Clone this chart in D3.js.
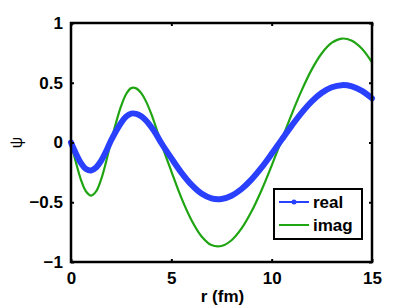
<!DOCTYPE html>
<html>
<head>
<meta charset="utf-8">
<script src="https://cdn.jsdelivr.net/npm/d3@7"></script>
<style>
body { margin: 0; background: #fff; }
svg text { font-family: "Liberation Sans", Arial, sans-serif; }
</style>
</head>
<body>
<script>
// values
var rVals = [0, 0.25, 0.5, 0.75, 1, 1.25, 1.5, 1.75, 2, 2.25, 2.5, 2.75, 3, 3.25, 3.5, 3.75, 4, 4.25, 4.5,
             5, 5.5, 6, 6.5, 7, 7.5, 8, 8.5, 9, 9.5, 10, 10.5, 11, 11.5, 12, 12.5, 13, 13.5, 14, 14.5, 15];
var realVals = [0, -0.094, -0.173, -0.222, -0.234, -0.209, -0.153, -0.073, 0.019, 0.097, 0.166, 0.217, 0.242,
                0.240, 0.220, 0.182, 0.130, 0.068, -0.004, -0.131, -0.252, -0.353, -0.427, -0.467, -0.472,
                -0.445, -0.389, -0.309, -0.209, -0.095, 0.024, 0.141, 0.250, 0.344, 0.416, 0.462, 0.480,
                0.469, 0.432, 0.370];
var imagVals = [0, -0.170, -0.314, -0.410, -0.444, -0.409, -0.309, -0.160, 0.013, 0.170, 0.306, 0.406, 0.455,
                0.453, 0.413, 0.340, 0.239, 0.119, -0.010, -0.241, -0.463, -0.648, -0.784, -0.858, -0.866,
                -0.818, -0.719, -0.576, -0.397, -0.193, 0.022, 0.238, 0.438, 0.612, 0.747, 0.835, 0.870,
                0.851, 0.784, 0.670];
var xTicks = [0, 5, 10, 15];
var yTicks = [-1, -0.5, 0, 0.5, 1];
var seriesNames = ["real", "imag"];

var margin = {top: 23, right: 37, bottom: 46, left: 71},
    width = 409 - margin.left - margin.right,
    height = 308 - margin.top - margin.bottom;

var colors = {real: "#2a40ff", imag: "#1fa512"};

var svg = d3.select("body").append("svg")
    .attr("width", 409)
    .attr("height", 308)
    .append("g")
    .attr("transform", "translate(" + margin.left + "," + margin.top + ")");

var x = d3.scaleLinear().domain([0, 15]).range([0, width]);
var y = d3.scaleLinear().domain([-1, 1]).range([height, 0]);

var data = rVals.map(function(r, i) { return {r: r, real: realVals[i], imag: imagVals[i]}; });

function fmt(d) { return d < 0 ? "\u2212" + Math.abs(d) : "" + d; }

// curves
seriesNames.slice().reverse().forEach(function(s) {
    var line = d3.line()
        .x(function(d) { return x(d.r); })
        .y(function(d) { return y(d[s]); })
        .curve(d3.curveCatmullRom);
    svg.append("path")
        .datum(data)
        .attr("fill", "none")
        .attr("stroke", colors[s])
        .attr("stroke-width", s == "real" ? 6 : 2.2)
        .attr("stroke-linejoin", "round")
        .attr("stroke-linecap", "round")
        .attr("d", line);
});

// axes, ticks pointing inward like matlab
function styleAxis(g) {
    g.select(".domain").remove();
    g.selectAll(".tick line").attr("stroke", "#000").attr("stroke-width", 2);
    g.selectAll(".tick text")
        .attr("fill", "#000")
        .style("font-size", "17px")
        .style("font-weight", "bold");
}

svg.append("g")
    .attr("transform", "translate(0," + height + ")")
    .call(d3.axisBottom(x).tickValues(xTicks).tickSize(-3).tickPadding(10).tickFormat(fmt))
    .call(styleAxis);
svg.append("g")
    .call(d3.axisTop(x).tickValues(xTicks).tickSize(-3).tickFormat(""))
    .call(styleAxis);
svg.append("g")
    .call(d3.axisLeft(y).tickValues(yTicks).tickSize(-3).tickPadding(8).tickFormat(fmt))
    .call(styleAxis);
svg.append("g")
    .attr("transform", "translate(" + width + ",0)")
    .call(d3.axisRight(y).tickValues(yTicks).tickSize(-3).tickFormat(""))
    .call(styleAxis);

svg.append("rect")
    .attr("width", width)
    .attr("height", height)
    .attr("fill", "none")
    .attr("stroke", "#000")
    .attr("stroke-width", 2.5);

// axis labels
svg.append("text")
    .attr("x", width / 2 + 1)
    .attr("y", height + 40)
    .attr("text-anchor", "middle")
    .style("font-size", "17px")
    .style("font-weight", "bold")
    .text("r (fm)");

svg.append("text")
    .attr("transform", "translate(" + (-49) + "," + (height / 2) + ") rotate(-90)")
    .attr("text-anchor", "middle")
    .style("font-size", "16px")
    .text("\u03c8");

// legend
var legend = svg.append("g").attr("transform", "translate(" + (274 - margin.left) + "," + (189 - margin.top) + ")");
legend.append("rect")
    .attr("width", 88)
    .attr("height", 50)
    .attr("fill", "#fff")
    .attr("stroke", "#000")
    .attr("stroke-width", 2);
seriesNames.forEach(function(s, i) {
    var ly = 13 + i * 23;
    legend.append("line")
        .attr("x1", 5).attr("x2", 35)
        .attr("y1", ly).attr("y2", ly)
        .attr("stroke", colors[s])
        .attr("stroke-width", 2);
    if (s == "real") {
        legend.append("circle")
            .attr("cx", 20).attr("cy", ly).attr("r", 2.5)
            .attr("fill", colors[s]);
    }
    legend.append("text")
        .attr("x", 39)
        .attr("y", ly + 6)
        .style("font-size", "17px")
        .style("font-weight", "bold")
        .text(seriesNames[i]);
});
</script>
</body>
</html>
